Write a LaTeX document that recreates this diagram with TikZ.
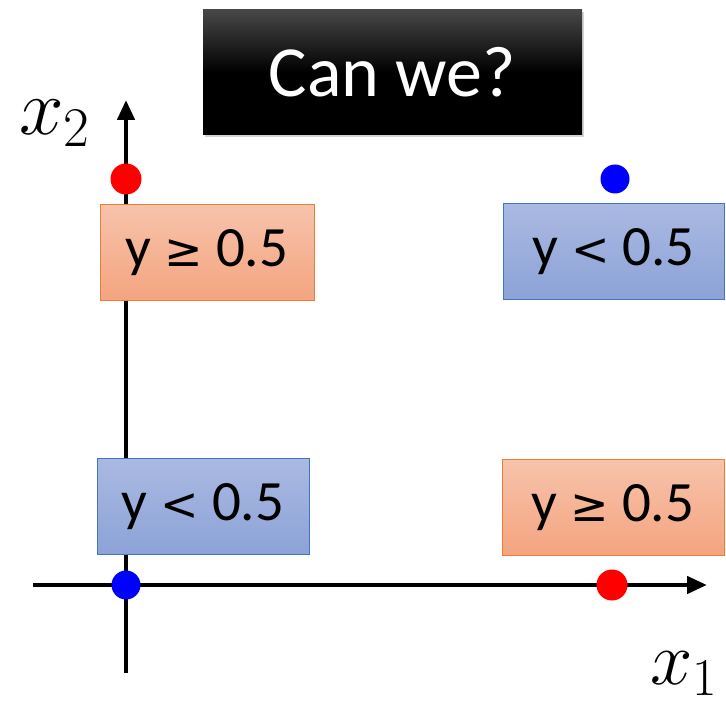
\RequirePackage{fix-cm}
\documentclass[tikz,border=0pt]{standalone}
\usepackage{fontspec}
\setmainfont{Carlito}
\newfontfamily\symf{DejaVu Sans}
\usetikzlibrary{arrows.meta,shadows}
\definecolor{orgtop}{HTML}{F7C3AB}
\definecolor{orgbot}{HTML}{F4A47F}
\definecolor{orgline}{HTML}{ED7D31}
\definecolor{blutop}{HTML}{AAB9E1}
\definecolor{blubot}{HTML}{8CA3D8}
\definecolor{bluline}{HTML}{4472C4}
\newcommand{\gp}{\hspace{13pt}}
\newcommand{\sy}[1]{{\symf\fontsize{46}{50}\selectfont #1}}
\tikzset{
  orgbox/.style={draw=orgline, line width=1pt, top color=orgtop, bottom color=orgbot, minimum width=214pt, minimum height=96pt, inner sep=0pt, font=\fontsize{57}{64}\selectfont},
  blubox/.style={draw=bluline, line width=1pt, top color=blutop, bottom color=blubot, minimum width=214pt, minimum height=96pt, inner sep=0pt, font=\fontsize{57}{64}\selectfont},
  axis/.style={line width=4.5pt, -{Triangle[length=20pt,width=17pt]}},
  reddot/.style={circle, fill=red, minimum size=31pt, inner sep=0pt},
  bludot/.style={circle, fill=blue, minimum size=29pt, inner sep=0pt},
  axlabel/.style={font=\fontsize{80}{90}\selectfont, inner sep=0pt, anchor=base west}
}
\begin{document}
\begin{tikzpicture}[x=1pt,y=-1pt]
\useasboundingbox (0,0) rectangle (726,703);
% title
\node[drop shadow={shadow xshift=2pt, shadow yshift=-2pt, opacity=0.35}, top color=black!72, bottom color=black, middle color=black, minimum width=379pt, minimum height=125pt, inner sep=0pt, text=white, font=\fontsize{72}{80}\selectfont] (title) at (392.5,72.5) {Can we?};
% axes
\coordinate (ybot) at (126,673);
\coordinate (ytop) at (126,100);
\coordinate (xl) at (33,585);
\coordinate (xr) at (707,585);
\draw[axis] (ybot) -- (ytop);
\draw[axis] (xl) -- (xr);
\node[axlabel] (x2) at (19,135) {$x_2$};
\node[axlabel, font=\fontsize{76}{86}\selectfont] (x1) at (650,684) {$x_1$};
% boxes
\node[orgbox, minimum width=214pt] (b1) at (207,253) {y\gp\sy{≥}\gp0.5};
\node[blubox, minimum width=221pt] (b2) at (613.5,251.5) {y\gp\sy{<}\gp0.5};
\node[blubox, minimum width=212pt] (b3) at (203,506.5) {y\gp\sy{<}\gp0.5};
\node[orgbox, minimum width=222pt] (b4) at (613,507.5) {y\gp\sy{≥}\gp0.5};
% dots
\node[reddot] (p1) at (126,179) {};
\node[bludot] (p2) at (615,179) {};
\node[bludot] (p3) at (126,585) {};
\node[reddot] (p4) at (612,585) {};
\end{tikzpicture}
\end{document}
